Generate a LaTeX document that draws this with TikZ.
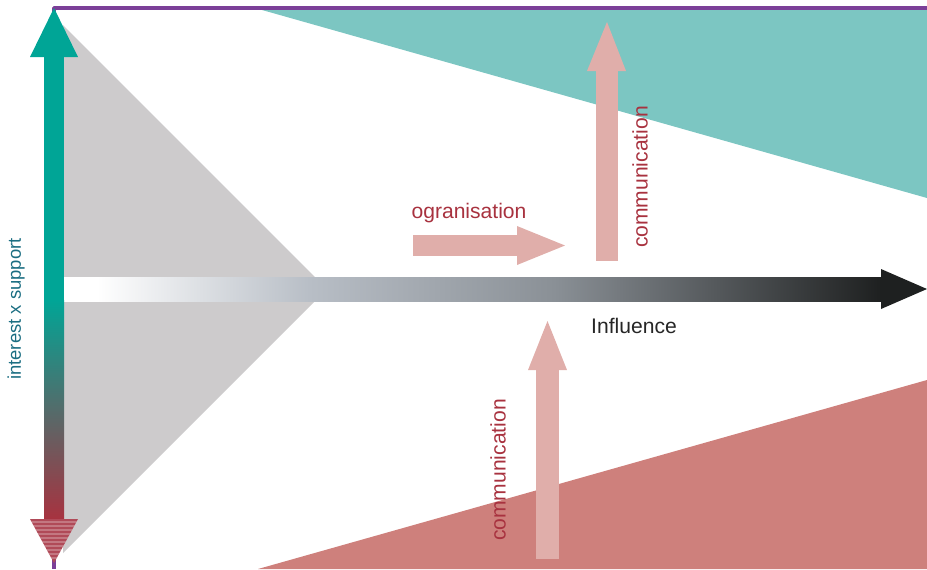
\documentclass[tikz,border=0pt]{standalone}
\usepackage{fontspec}
\setmainfont{Liberation Sans}
\usetikzlibrary{positioning,calc}

\definecolor{graytri}{HTML}{CDCBCC}
\definecolor{tealtri}{HTML}{7CC6C2}
\definecolor{redtri}{HTML}{CE807C}
\definecolor{framec}{HTML}{7B3F98}
\definecolor{tealarr}{HTML}{00A596}
\definecolor{midarr}{HTML}{6C6C5E}
\definecolor{redarr}{HTML}{A8323F}
\definecolor{headred}{HTML}{B04A58}
\definecolor{pinkarr}{HTML}{E0AEAA}
\definecolor{textred}{HTML}{A8323F}
\definecolor{axistext}{HTML}{1B6E82}
\definecolor{inflmid}{HTML}{B8BEC6}
\definecolor{inflgray}{HTML}{8A9096}
\definecolor{infldark}{HTML}{1E2020}

\pgfdeclarehorizontalshading{influshade}{100bp}{color(0bp)=(white); color(27bp)=(white); color(40bp)=(inflmid); color(55bp)=(inflgray); color(75bp)=(infldark); color(100bp)=(infldark)}

\begin{document}
\begin{tikzpicture}[x=0.02cm, y=-0.02cm, line join=round,
	txt/.style={font=\fontsize{12}{14}\selectfont, inner sep=0pt},
	commtxt/.style={txt, text=textred, rotate=90}]
		\useasboundingbox (0,0) rectangle (927,569);
		% background triangles
		\fill [graytri] (63,25) -- (315,277) -- (315,301) -- (63,553) -- cycle;
		\fill [tealtri] (255,8) -- (927,8) -- (927,198) -- cycle;
		\fill [redtri] (258,569) -- (927,380) -- (927,569) -- cycle;
		% frame
		\draw [framec, line width=2pt] (927,8) -- (54,8) -- (54,569);
		% influence arrow
		\shade [shading=influshade] (64,277) rectangle (881,301);
		\fill [infldark] (881,269) -- (927,289) -- (881,309) -- cycle;
		% interest x support arrow
		\fill [tealarr] (44,56) rectangle (64,300);
		\shade [top color=tealarr, middle color=midarr, bottom color=redarr] (44,300) rectangle (64,520);
		\fill [tealarr] (30,57) -- (54,8) -- (78,57) -- cycle;
		\fill [headred] (30,519) -- (78,519) -- (54,563) -- cycle;
		\begin{scope}
			\clip (30,519) -- (78,519) -- (54,563) -- cycle;
			\foreach \yy in {522,526,...,558}
				\draw [white, opacity=0.25, line width=0.6pt] (30,\yy) -- (78,\yy);
		\end{scope}
		% pink arrows
		\fill [pinkarr] (413,235) rectangle (517,256);
		\fill [pinkarr] (517,226) -- (565,245.5) -- (517,265) -- cycle;
		\fill [pinkarr] (596,71) rectangle (618,261);
		\fill [pinkarr] (587,71) -- (607,22) -- (626,71) -- cycle;
		\fill [pinkarr] (536,370) rectangle (559,559);
		\fill [pinkarr] (528,370) -- (547.5,321) -- (567,370) -- cycle;
		% symbols
		\node [txt, text=textred] (orga) at (469,213) {ogranisation};
		\node [commtxt] (commup) at (640,177) {communication};
		\node [commtxt] (commdown) at (498,470) {communication};
		\node [txt, text=black!85] (infl) at (634,326) {Influence};
		\node [txt, text=axistext, rotate=90, font=\fontsize{10.5}{12}\selectfont] (intsup) at (16,309) {interest x support};
	\end{tikzpicture}
\end{document}
